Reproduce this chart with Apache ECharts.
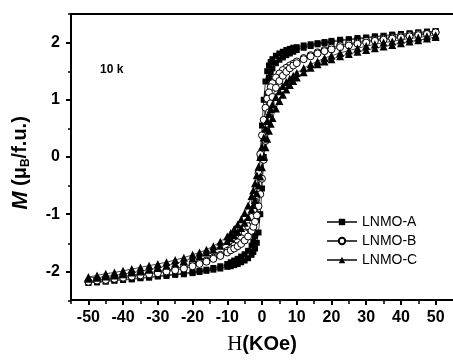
<!DOCTYPE html>
<html>
<head>
<meta charset="utf-8">
<script src="https://cdn.jsdelivr.net/npm/echarts@6/dist/echarts.min.js"></script>
<style>
  html, body { margin: 0; padding: 0; background: #fff; }
  #chart { width: 453px; height: 360px; }
</style>
</head>
<body>
<div id="chart"></div>
<script>
// field H (kOe), sweep down from +50 to -50
const hDown = [50, 47.5, 45, 42.5, 40, 37.5, 35, 32.5, 30, 27.5, 25, 22.5,
  20, 18, 16, 14, 12, 10, 9, 8, 7, 6, 5, 4,
  3, 2.5, 2, 1.5, 1, 0.5, 0, -0.5, -1, -1.5, -2, -2.5,
  -3, -4, -5, -6, -7, -8, -9, -10, -12, -14, -16, -18,
  -20, -22.5, -25, -27.5, -30, -32.5, -35, -37.5, -40, -42.5, -45, -47.5, -50];
// sweep back up from -50 to +50
const hUp = [-50, -47.5, -45, -42.5, -40, -37.5, -35, -32.5, -30, -27.5, -25, -22.5,
  -20, -18, -16, -14, -12, -10, -9, -8, -7, -6, -5, -4,
  -3, -2.5, -2, -1.5, -1, -0.5, 0, 0.5, 1, 1.5, 2, 2.5,
  3, 4, 5, 6, 7, 8, 9, 10, 12, 14, 16, 18,
  20, 22.5, 25, 27.5, 30, 32.5, 35, 37.5, 40, 42.5, 45, 47.5, 50];

const aDown = [2.20, 2.19, 2.18, 2.16, 2.15, 2.14, 2.12, 2.11, 2.09, 2.08, 2.06, 2.05,
  2.03, 2.01, 1.99, 1.97, 1.95, 1.92, 1.91, 1.89, 1.87, 1.84, 1.81, 1.77,
  1.71, 1.66, 1.60, 1.50, 1.32, 1.00, 0.55, 0.00, -0.60, -1.10, -1.38, -1.48,
  -1.55, -1.64, -1.70, -1.74, -1.78, -1.81, -1.84, -1.87, -1.91, -1.94, -1.97, -1.99,
  -2.01, -2.03, -2.05, -2.06, -2.08, -2.10, -2.11, -2.13, -2.14, -2.16, -2.17, -2.19, -2.20];
const aUp = [-2.20, -2.19, -2.18, -2.16, -2.15, -2.14, -2.12, -2.11, -2.09, -2.08, -2.06, -2.05,
  -2.03, -2.01, -1.99, -1.97, -1.95, -1.92, -1.91, -1.89, -1.87, -1.84, -1.81, -1.77,
  -1.71, -1.66, -1.60, -1.50, -1.32, -1.00, -0.55, 0.00, 0.60, 1.10, 1.38, 1.48,
  1.55, 1.64, 1.70, 1.74, 1.78, 1.81, 1.84, 1.87, 1.91, 1.94, 1.97, 1.99,
  2.01, 2.03, 2.05, 2.06, 2.08, 2.10, 2.11, 2.13, 2.14, 2.16, 2.17, 2.19, 2.20];

const bDown = [2.18, 2.16, 2.15, 2.13, 2.11, 2.09, 2.07, 2.05, 2.03, 2.00, 1.98, 1.95,
  1.91, 1.87, 1.83, 1.78, 1.73, 1.67, 1.63, 1.60, 1.56, 1.52, 1.46, 1.39,
  1.29, 1.22, 1.13, 1.02, 0.86, 0.65, 0.38, 0.05, -0.28, -0.56, -0.78, -0.94,
  -1.05, -1.21, -1.33, -1.42, -1.49, -1.55, -1.60, -1.64, -1.71, -1.76, -1.81, -1.85,
  -1.88, -1.92, -1.95, -1.98, -2.00, -2.03, -2.05, -2.07, -2.09, -2.11, -2.13, -2.15, -2.18];
const bUp = [-2.18, -2.16, -2.15, -2.13, -2.11, -2.09, -2.07, -2.05, -2.03, -2.00, -1.98, -1.95,
  -1.91, -1.87, -1.83, -1.78, -1.73, -1.67, -1.63, -1.60, -1.56, -1.52, -1.46, -1.39,
  -1.29, -1.22, -1.13, -1.02, -0.86, -0.65, -0.38, -0.05, 0.28, 0.56, 0.78, 0.94,
  1.05, 1.21, 1.33, 1.42, 1.49, 1.55, 1.60, 1.64, 1.71, 1.76, 1.81, 1.85,
  1.88, 1.92, 1.95, 1.98, 2.00, 2.03, 2.05, 2.07, 2.09, 2.11, 2.13, 2.15, 2.18];

const cDown = [2.13, 2.11, 2.09, 2.07, 2.05, 2.02, 2.00, 1.97, 1.94, 1.90, 1.86, 1.82,
  1.77, 1.73, 1.67, 1.62, 1.55, 1.47, 1.42, 1.37, 1.31, 1.24, 1.15, 1.05,
  0.92, 0.84, 0.75, 0.63, 0.50, 0.34, 0.18, 0.00, -0.17, -0.32, -0.46, -0.58,
  -0.68, -0.85, -0.98, -1.09, -1.18, -1.26, -1.33, -1.39, -1.48, -1.56, -1.62, -1.67,
  -1.71, -1.76, -1.80, -1.84, -1.87, -1.90, -1.93, -1.96, -1.99, -2.02, -2.04, -2.07, -2.10];
const cUp = [-2.13, -2.11, -2.09, -2.07, -2.05, -2.02, -2.00, -1.97, -1.94, -1.90, -1.86, -1.82,
  -1.77, -1.73, -1.67, -1.62, -1.55, -1.47, -1.42, -1.37, -1.31, -1.24, -1.15, -1.05,
  -0.92, -0.84, -0.75, -0.63, -0.50, -0.34, -0.18, 0.00, 0.17, 0.32, 0.46, 0.58,
  0.68, 0.85, 0.98, 1.09, 1.18, 1.26, 1.33, 1.39, 1.48, 1.56, 1.62, 1.67,
  1.71, 1.76, 1.80, 1.84, 1.87, 1.90, 1.93, 1.96, 1.99, 2.02, 2.04, 2.07, 2.10];

const xMajor = [-50, -40, -30, -20, -10, 0, 10, 20, 30, 40, 50];
const xMinor = [-55, -45, -35, -25, -15, -5, 5, 15, 25, 35, 45];
const yMajor = [-2, -1, 0, 1, 2];
const yMinor = [-2.5, -1.5, -0.5, 0.5, 1.5, 2.5];

const FONT = 'Liberation Sans, Arial, sans-serif';

function loop(down, up) {
  const pts = [];
  hDown.forEach((h, i) => pts.push([h, down[i]]));
  hUp.forEach((h, i) => pts.push([h, up[i]]));
  return pts;
}

const chart = echarts.init(document.getElementById('chart'));

const gridBox = { left: 71, right: -6, top: 14, bottom: 59 };
const axisLine = { show: true, onZero: false, lineStyle: { color: '#000', width: 2 } };

const option = {
  animation: false,
  backgroundColor: '#fff',
  grid: [gridBox, gridBox],
  legend: {
    orient: 'vertical',
    left: 321,
    top: 210,
    itemWidth: 30,
    itemHeight: 8,
    itemGap: 5,
    textStyle: { color: '#000', fontSize: 14, fontFamily: FONT },
    data: ['LNMO-A', 'LNMO-B', 'LNMO-C'],
  },
  graphic: [
    {
      type: 'text',
      left: 100,
      top: 64,
      style: { text: '10 k', font: 'bold 12px ' + FONT, fill: '#000' },
    },
  ],
  xAxis: [
    {
      type: 'value',
      gridIndex: 0,
      min: -55,
      max: 55,
      position: 'bottom',
      axisLine: axisLine,
      axisTick: { customValues: xMajor, length: 5, lineStyle: { color: '#000', width: 2 } },
      axisLabel: {
        customValues: xMajor,
        color: '#000',
        fontSize: 16,
        fontWeight: 'bold',
        fontFamily: FONT,
        margin: 10,
      },
      splitLine: { show: false },
      name: '{h|H}{k|(KOe)}',
      nameLocation: 'middle',
      nameGap: 34,
      nameTextStyle: {
        rich: {
          h: { fontFamily: 'Liberation Serif, Times New Roman, serif', fontSize: 21, color: '#000' },
          k: { fontFamily: FONT, fontSize: 20, fontWeight: 'bold', color: '#000' },
        },
      },
    },
    {
      // top frame line
      type: 'value',
      gridIndex: 0,
      min: -55,
      max: 55,
      position: 'top',
      axisLine: axisLine,
      axisTick: { show: false },
      axisLabel: { show: false },
      splitLine: { show: false },
    },
    {
      // minor ticks
      type: 'value',
      gridIndex: 1,
      min: -55,
      max: 55,
      position: 'bottom',
      axisLine: { show: false, onZero: false },
      axisTick: { customValues: xMinor, length: 3, lineStyle: { color: '#000', width: 1.5 } },
      axisLabel: { show: false },
      splitLine: { show: false },
    },
  ],
  yAxis: [
    {
      type: 'value',
      gridIndex: 0,
      min: -2.5,
      max: 2.5,
      position: 'left',
      axisLine: axisLine,
      axisTick: { customValues: yMajor, length: 5, lineStyle: { color: '#000', width: 2 } },
      axisLabel: {
        customValues: yMajor,
        color: '#000',
        fontSize: 16,
        fontWeight: 'bold',
        fontFamily: FONT,
        margin: 11,
      },
      splitLine: { show: false },
      name: '{m|M}{t| (μ}{s|B}{t|/f.u.)}',
      nameLocation: 'middle',
      nameRotate: 90,
      nameGap: 39,
      nameTextStyle: {
        padding: [0, 12, 0, 0],
        rich: {
          m: { fontFamily: FONT, fontSize: 22, fontWeight: 'bold', fontStyle: 'italic', color: '#000' },
          t: { fontFamily: FONT, fontSize: 20, fontWeight: 'bold', color: '#000' },
          s: { fontFamily: FONT, fontSize: 12, fontWeight: 'bold', color: '#000', padding: [11, 0, 0, 0] },
        },
      },
    },
    {
      type: 'value',
      gridIndex: 1,
      min: -2.5,
      max: 2.5,
      position: 'left',
      axisLine: { show: false, onZero: false },
      axisTick: { customValues: yMinor, length: 3, lineStyle: { color: '#000', width: 1.5 } },
      axisLabel: { show: false },
      splitLine: { show: false },
    },
  ],
  series: [
    {
      name: 'LNMO-A',
      type: 'line',
      xAxisIndex: 0,
      yAxisIndex: 0,
      data: loop(aDown, aUp),
      symbol: 'rect',
      symbolSize: 6,
      itemStyle: { color: '#000' },
      lineStyle: { color: '#444', width: 1 },
    },
    {
      name: 'LNMO-B',
      type: 'line',
      xAxisIndex: 0,
      yAxisIndex: 0,
      data: loop(bDown, bUp),
      symbol: 'circle',
      symbolSize: 7,
      itemStyle: { color: '#fff', borderColor: '#000', borderWidth: 1 },
      lineStyle: { color: '#444', width: 1 },
    },
    {
      name: 'LNMO-C',
      type: 'line',
      xAxisIndex: 0,
      yAxisIndex: 0,
      data: loop(cDown, cUp),
      symbol: 'triangle',
      symbolSize: 8,
      itemStyle: { color: '#000' },
      lineStyle: { color: '#444', width: 1 },
    },
  ],
};

chart.setOption(option);
</script>
</body>
</html>
